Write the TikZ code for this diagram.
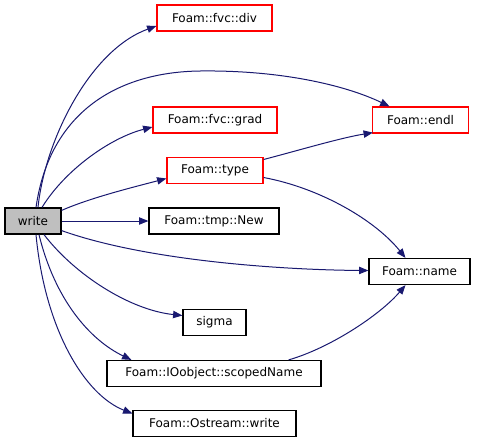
\documentclass[tikz,border=0pt]{standalone}
\usepackage{fontspec}
\setmainfont{DejaVu Sans}
\usetikzlibrary{arrows.meta,calc}
\definecolor{edgeblue}{HTML}{191970}
\definecolor{nodegray}{HTML}{BFBFBF}
\definecolor{boxred}{HTML}{FF0000}
\tikzset{
  box/.style={draw=black, line width=0.9pt, fill=white, inner sep=0pt, minimum height=19.5pt, font=\fontsize{9pt}{11pt}\selectfont},
  redbox/.style={draw=boxred, line width=0.9pt, fill=white, inner sep=0pt, minimum height=19.5pt, font=\fontsize{9pt}{11pt}\selectfont},
  graybox/.style={box, fill=nodegray},
  edge/.style={draw=edgeblue, line width=0.75pt, -{Triangle[length=7pt,width=5.5pt,fill=edgeblue]}}
}
\begin{document}
\begin{tikzpicture}[x=0.75pt,y=-0.75pt]
\useasboundingbox (0,0) rectangle (477,443);
\node[graybox, minimum width=42pt] (write) at (33,221) {write};
\node[redbox, minimum width=86.25pt] (div) at (214.5,18) {Foam::fvc::div};
\node[redbox, minimum width=72pt] (endl) at (420.5,120) {Foam::endl};
\node[redbox, minimum width=93pt] (grad) at (215,120) {Foam::fvc::grad};
\node[redbox, minimum width=72pt] (type) at (215,170.5) {Foam::type};
\node[box, minimum width=97.5pt] (new) at (214,221) {Foam::tmp::New};
\node[box, minimum width=75.75pt] (name) at (419.5,271.5) {Foam::name};
\node[box, minimum width=47.25pt] (sigma) at (214.5,322.5) {sigma};
\node[box, minimum width=160.5pt] (scoped) at (214,373.5) {Foam::IOobject::scopedName};
\node[box, minimum width=122.25pt] (ost) at (214.5,423.5) {Foam::Ostream::write};

\draw[edge] ($(write.north)+(5,0)$) .. controls (45,140) and (90,50) .. ($(div.west)+(0,8)$);
\draw[edge] ($(write.north)+(3,0)$) .. controls (50,110) and (120,72) .. (200,71) .. controls (280,70) and (345,85) .. ($(endl.north)+(-31,0)$);
\draw[edge] ($(write.north)+(9,0)$) .. controls (65,170) and (110,138) .. ($(grad.west)+(0,7)$);
\draw[edge] ($(write.north east)+(0,3)$) .. controls (90,198) and (130,188) .. ($(type.west)+(0,8)$);
\draw[edge] (write.east) -- (new.west);
\draw[edge] ($(write.south east)+(0,-4)$) .. controls (150,262) and (290,270) .. ($(name.west)+(0,-1)$);
\draw[edge] ($(write.south)+(11,0)$) .. controls (75,275) and (130,310) .. ($(sigma.west)+(0,-7)$);
\draw[edge] ($(write.south)+(6,0)$) .. controls (55,300) and (90,340) .. ($(scoped.north west)+(25,0)$);
\draw[edge] ($(write.south)+(3,0)$) .. controls (45,330) and (85,395) .. ($(ost.west)+(0,-10)$);
\draw[edge] ($(type.east)+(0,-11)$) .. controls (300,150) and (340,138) .. ($(endl.south west)+(1,-1)$);
\draw[edge] ($(type.east)+(0,7)$) .. controls (320,188) and (375,220) .. ($(name.north)+(-14,0)$);
\draw[edge] ($(scoped.north east)+(-33,0)$) .. controls (330,348) and (380,315) .. ($(name.south)+(-14,0)$);
\end{tikzpicture}
\end{document}
